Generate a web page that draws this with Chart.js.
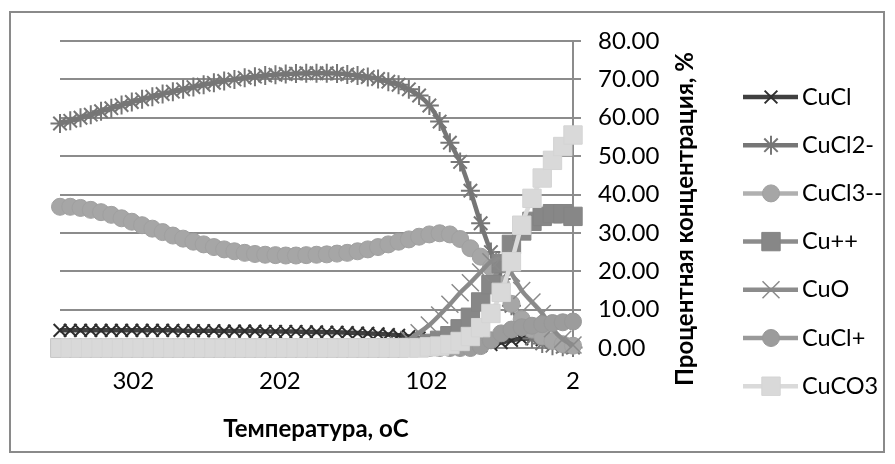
<!DOCTYPE html>
<html>
<head>
<meta charset="utf-8">
<script src="https://cdn.jsdelivr.net/npm/chart.js@4.4.1/dist/chart.umd.min.js"></script>
<style>
  body { margin: 0; background: #ffffff; }
  canvas { display: block; }
</style>
</head>
<body>
<canvas id="chart" width="895" height="464"></canvas>
<script>
// Temperature points, oC (x values, axis reversed)
const temps = [352, 345, 338, 331, 324, 317, 310, 303, 296, 289, 282, 275, 268, 261, 254, 247, 240,
    233, 226, 219, 212, 205, 198, 191, 184, 177, 170, 163, 156, 149, 142, 135, 128, 121, 114,
    107, 100, 93, 86, 79, 72, 65, 58, 51, 44, 37, 30, 23, 16, 9, 2];

const xTickValues = [302, 202, 102, 2];

// Series values, %
const cuCl = [4.6, 4.6, 4.6, 4.6, 4.6, 4.6, 4.6, 4.6, 4.6, 4.6,
    4.6, 4.6, 4.5, 4.5, 4.5, 4.5, 4.4, 4.4, 4.4, 4.4,
    4.3, 4.3, 4.3, 4.3, 4.2, 4.2, 4.1, 4.1, 4.0, 3.9,
    3.8, 3.7, 3.5, 3.3, 3.0, 2.6, 2.1, 1.6, 1.1, 0.7,
    0.5, 0.6, 0.9, 1.4, 2.0, 2.4, 2.5, 2.2, 1.5, 0.9, 0.5];

const cuCl2 = [58.5, 59.2, 60.0, 60.8, 61.7, 62.5, 63.3, 64.1, 64.8, 65.5,
    66.2, 66.8, 67.4, 68.0, 68.6, 69.1, 69.6, 70.0, 70.4, 70.7,
    71.0, 71.2, 71.4, 71.5, 71.6, 71.6, 71.6, 71.5, 71.3, 71.0,
    70.6, 70.1, 69.4, 68.6, 67.4, 65.8, 63.2, 59.0, 53.5, 48.5,
    41.0, 32.5, 25.0, 18.0, 11.0, 5.5, 2.5, 1.2, 0.6, 0.3, 0.1];

const cuCl3 = [36.8, 36.8, 36.5, 36.0, 35.4, 34.7, 33.8, 32.9, 32.0, 31.1,
    30.2, 29.3, 28.5, 27.7, 27.0, 26.3, 25.7, 25.2, 24.8, 24.5,
    24.3, 24.2, 24.1, 24.1, 24.2, 24.3, 24.4, 24.6, 24.8, 25.2,
    25.7, 26.3, 27.0, 27.7, 28.3, 29.0, 29.6, 29.9, 29.6, 28.4,
    26.0, 23.8, 21.0, 16.5, 11.5, 7.5, 4.8, 3.0, 1.8, 1.0, 0.6];

const cuPlus2 = [0, 0, 0, 0, 0, 0, 0, 0, 0, 0,
    0, 0, 0, 0, 0, 0, 0, 0, 0, 0,
    0, 0, 0, 0, 0, 0, 0, 0, 0, 0,
    0, 0, 0, 0, 0.2, 0.5, 1.2, 2.0, 3.2, 5.0,
    8.0, 12.0, 16.5, 22.0, 27.0, 30.5, 33.0, 34.3, 35.0, 35.0, 34.3];

const cuO = [0, 0, 0, 0, 0, 0, 0, 0, 0, 0,
    0, 0, 0, 0, 0, 0, 0, 0, 0, 0,
    0, 0, 0, 0, 0, 0, 0, 0, 0, 0,
    0, 0, 0, 0.8, 2.2, 4.0, 6.0, 8.6, 11.4, 14.4,
    17.0, 19.8, 22.5, 23.3, 19.5, 15.0, 12.0, 9.0, 5.0, 2.3, 0.8];

const cuClPlus = [0, 0, 0, 0, 0, 0, 0, 0, 0, 0,
    0, 0, 0, 0, 0, 0, 0, 0, 0, 0,
    0, 0, 0, 0, 0, 0, 0, 0, 0, 0,
    0, 0, 0, 0, 0, 0, 0, 0, 0, 0,
    0, 0.5, 2.0, 3.8, 4.8, 5.4, 5.8, 6.2, 6.5, 6.7, 6.9];

const cuCO3 = [0, 0, 0, 0, 0, 0, 0, 0, 0, 0,
    0, 0, 0, 0, 0, 0, 0, 0, 0, 0,
    0, 0, 0, 0, 0, 0, 0, 0, 0, 0,
    0, 0, 0, 0, 0, 0, 0.3, 0.5, 0.9, 1.7,
    3.0, 5.3, 9.0, 14.5, 22.5, 32.0, 39.0, 44.3, 48.9, 52.5, 55.5];

const seriesNames = ['CuCl', 'CuCl2-', 'CuCl3--', 'Cu++', 'CuO', 'CuCl+', 'CuCO3'];
const seriesValues = [cuCl, cuCl2, cuCl3, cuPlus2, cuO, cuClPlus, cuCO3];

// Styling per series (grayscale palette)
const SERIES_STYLES = [
    { line: '#404040', fill: '#404040', stroke: '#2e2e2e', style: 'crossRot', radius: 9, border: 2 },
    { line: '#767676', fill: '#767676', stroke: '#767676', style: 'star', radius: 9.5, border: 2 },
    { line: '#b0b0b0', fill: '#a6a6a6', stroke: '#a0a0a0', style: 'circle', radius: 8.5, border: 1 },
    { line: '#8c8c8c', fill: '#878787', stroke: '#848484', style: 'rect', radius: 13, border: 1 },
    { line: '#8c8c8c', fill: '#8c8c8c', stroke: '#8a8a8a', style: 'crossRot', radius: 12, border: 1.5 },
    { line: '#9a9a9a', fill: '#9c9c9c', stroke: '#989898', style: 'circle', radius: 8.5, border: 1 },
    { line: '#dadada', fill: '#d9d9d9', stroke: '#d4d4d4', style: 'rect', radius: 13, border: 1 }
];

const GRID_COLOR = '#8c8c8c';
const FONT_FAMILY = 'Lato, "Open Sans", sans-serif';

const datasets = seriesNames.map((name, i) => {
    const s = SERIES_STYLES[i];
    return {
        label: name,
        data: seriesValues[i].map((v, j) => ({ x: temps[j], y: v })),
        borderColor: s.line,
        borderWidth: 4.5,
        pointStyle: s.style,
        pointRadius: s.radius,
        pointBackgroundColor: s.fill,
        pointBorderColor: s.stroke,
        pointBorderWidth: s.border,
        cubicInterpolationMode: 'monotone',
        clip: false,
        // first series at the bottom, CuCO3 on top
        order: seriesNames.length - 1 - i
    };
});

// Frame, axis titles and legend drawn around the plot
const decorPlugin = {
    id: 'decor',
    beforeDraw(chart) {
        const ctx = chart.ctx;
        ctx.save();
        ctx.fillStyle = '#ffffff';
        ctx.fillRect(0, 0, chart.width, chart.height);
        ctx.strokeStyle = '#8a8a8a';
        ctx.lineWidth = 2;
        ctx.strokeRect(10, 12, 874, 440);
        ctx.restore();
    },
    afterDraw(chart) {
        const ctx = chart.ctx;
        ctx.save();
        ctx.fillStyle = '#000000';
        ctx.font = 'bold 24px ' + FONT_FAMILY;
        ctx.textAlign = 'center';
        ctx.textBaseline = 'middle';
        ctx.fillText('Температура, оС', 316, 429);

        ctx.translate(685, 219);
        ctx.rotate(-Math.PI / 2);
        ctx.fillText('Процентная концентрация, %', 0, 0);
        ctx.restore();

        // legend: line with marker, then label
        chart.data.datasets.forEach((ds, i) => {
            const y = 97 + i * 48.2;
            ctx.save();
            ctx.strokeStyle = ds.borderColor;
            ctx.lineWidth = 4.5;
            ctx.beginPath();
            ctx.moveTo(743, y);
            ctx.lineTo(798, y);
            ctx.stroke();
            ctx.fillStyle = ds.pointBackgroundColor;
            ctx.strokeStyle = ds.pointBorderColor;
            ctx.lineWidth = ds.pointBorderWidth;
            Chart.helpers.drawPoint(ctx, {
                pointStyle: ds.pointStyle,
                radius: ds.pointRadius,
                borderWidth: ds.pointBorderWidth,
                rotation: 0
            }, 771, y);
            ctx.fillStyle = '#000000';
            ctx.font = '23.5px ' + FONT_FAMILY;
            ctx.textAlign = 'left';
            ctx.textBaseline = 'middle';
            ctx.fillText(ds.label, 802, y);
            ctx.restore();
        });
    }
};

new Chart(document.getElementById('chart'), {
    type: 'line',
    data: { datasets },
    options: {
        responsive: false,
        animation: false,
        layout: {
            padding: { left: 60, top: 41, right: 212, bottom: 0 }
        },
        plugins: {
            legend: { display: false },
            tooltip: { enabled: false }
        },
        scales: {
            x: {
                type: 'linear',
                reverse: true,
                min: 2,
                max: 352,
                afterBuildTicks: (axis) => {
                    axis.ticks = xTickValues.map(v => ({ value: v }));
                },
                afterFit: (scale) => { scale.height = 116; },
                grid: { display: false, drawTicks: false },
                border: { display: false },
                ticks: {
                    color: '#000000',
                    font: { family: FONT_FAMILY, size: 24 },
                    padding: 19,
                    maxRotation: 0,
                    autoSkip: false
                }
            },
            y: {
                position: 'right',
                min: 0,
                max: 80,
                afterFit: (scale) => { scale.width = 110; },
                grid: {
                    color: GRID_COLOR,
                    lineWidth: 2,
                    drawTicks: true,
                    tickLength: 8
                },
                border: { display: true, color: GRID_COLOR, width: 2 },
                ticks: {
                    stepSize: 10,
                    color: '#000000',
                    font: { family: FONT_FAMILY, size: 24 },
                    padding: 17,
                    callback: (v) => v.toFixed(2)
                }
            }
        }
    },
    plugins: [decorPlugin]
});
</script>
</body>
</html>
